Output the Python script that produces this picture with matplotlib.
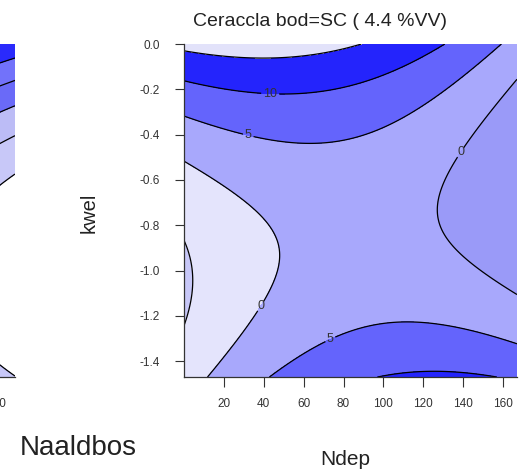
import numpy as np
import matplotlib
matplotlib.use("Agg")
import matplotlib.pyplot as plt

plt.rcParams['font.family'] = ['Liberation Sans', 'DejaVu Sans']
plt.rcParams['axes.unicode_minus'] = False

# axis ranges and ticks
ndep_range = [0, 167]
ndep_range_naald = [0, 169.5]
kwel_range = [-1.47, 0.0]
ndep_ticks = [20, 40, 60, 80, 100, 120, 140, 160]
kwel_ticks = [0.0, -0.2, -0.4, -0.6, -0.8, -1.0, -1.2, -1.4]
kwel_ticklabels = ['0.0', '-0.2', '-0.4', '-0.6', '-0.8', '-1.0', '-1.2', '-1.4']

# fitted response surfaces, z = b0 + b1*N + b2*N^2 + b3*K + b4*K^2 + b5*N*K
terms = ['1', 'N', 'N^2', 'K', 'K^2', 'N*K']
coef_sc = [16.23, 0.05805, -0.000808, 41.57, 19.7, -0.1001]
coef_naald = [48.82, -0.15, 0.0, 56.71, 27.8, 0.0]

# fill levels / colours (Ceraccla, bodem SC)
levels_sc = [-10, -5, 0, 5, 10, 15, 20]
colors_sc = ['#c8c8f8', '#e4e4fc', '#a8a8fc', '#6464fc', '#2424fc', '#e2e2fa']
color_sc_right = '#9a9af8'   # low band on the high-Ndep side
lines_sc = [-5, 0, 5, 10, 15]

# fill levels / colours (Naaldbos panel)
levels_naald = [-10, 0, 5, 10, 15, 20, 30]
colors_naald = ['white', '#c8c8f8', '#bcbcf6', '#6a6af8', '#7272fa', '#2a2afc']
lines_naald = [0, 5, 10, 15, 20]

# where the contour labels go (Ndep, kwel)
label_pos = [(43.2, -0.222), (32.2, -0.404), (138.7, -0.479),
             (39.2, -1.162), (73.9, -1.313)]


def surface(coef, N, K):
    return (coef[0] + coef[1] * N + coef[2] * N ** 2 + coef[3] * K
            + coef[4] * K ** 2 + coef[5] * N * K)


def style_xaxis(a):
    a.spines['bottom'].set_color('#333333')
    a.spines['bottom'].set_linewidth(0.9)
    a.tick_params(axis='x', direction='out', length=7, width=0.8, color='#333333',
                  labelsize=8.5, labelcolor='#333333', pad=8)


W, H = 523, 473
fig = plt.figure(figsize=(W / 100, H / 100), dpi=100)

# main panel: x 184..517 px, y 44..377 px
ax = fig.add_axes([184 / W, 1 - 377 / H, 333 / W, 333 / H])
# cut-off neighbour panel on the left
ax2 = fig.add_axes([(15 - 333) / W, 1 - 377 / H, 333 / W, 333 / H])

N, K = np.meshgrid(np.linspace(ndep_range[0], ndep_range[1], 300),
                   np.linspace(kwel_range[0], kwel_range[1], 300))
Z = surface(coef_sc, N, K)

ax.contourf(N, K, Z, levels=levels_sc, colors=colors_sc)
Z_right = np.ma.masked_where(N < 90, Z)
ax.contourf(N, K, Z_right, levels=[-5, 0], colors=[color_sc_right])
cs = ax.contour(N, K, Z, levels=lines_sc, colors='black', linewidths=0.9,
                linestyles='solid')
labels = ax.clabel(cs, manual=label_pos, fmt='%d', fontsize=9,
                   colors='#333333', inline=True, inline_spacing=2)
for t in labels:
    t.set_rotation(0)

ax.set_xlim(ndep_range)
ax.set_ylim(kwel_range)
ax.set_xticks(ndep_ticks)
ax.set_yticks(kwel_ticks)
ax.set_yticklabels(kwel_ticklabels)
for s in ['top', 'right']:
    ax.spines[s].set_visible(False)
ax.spines['left'].set_color('#333333')
ax.spines['left'].set_linewidth(0.9)
ax.tick_params(axis='y', direction='out', length=6.5, width=0.8, color='#333333',
               labelsize=8.5, labelcolor='#333333', pad=11)
style_xaxis(ax)

# Naaldbos panel (only its right edge is in view)
N2, K2 = np.meshgrid(np.linspace(150, ndep_range_naald[1], 80),
                     np.linspace(kwel_range[0], kwel_range[1], 300))
Z2 = surface(coef_naald, N2, K2)
ax2.contourf(N2, K2, Z2, levels=levels_naald, colors=colors_naald)
ax2.contour(N2, K2, Z2, levels=lines_naald, colors='black', linewidths=0.9,
            linestyles='solid')
ax2.set_xlim(ndep_range_naald)
ax2.set_ylim(kwel_range)
ax2.set_xticks(ndep_ticks[-1:])
ax2.set_yticks([])
for s in ['top', 'right', 'left']:
    ax2.spines[s].set_visible(False)
style_xaxis(ax2)

fig.text(193 / W, 1 - 21.5 / H, 'Ceraccla bod=SC ( 4.4 %VV)', fontsize=14,
         ha='left', va='center', color='#222222')
fig.text(345 / W, 1 - 465 / H, 'Ndep', fontsize=15, ha='center',
         va='baseline', color='#222222')
fig.text(89 / W, 1 - 213 / H, 'kwel', fontsize=14.5, rotation=90,
         ha='center', va='center', color='#222222')
fig.text(78 / W, 1 - 455 / H, 'Naaldbos', fontsize=20, ha='center',
         va='baseline', color='#222222')

fig.savefig('out.png', dpi=100)
